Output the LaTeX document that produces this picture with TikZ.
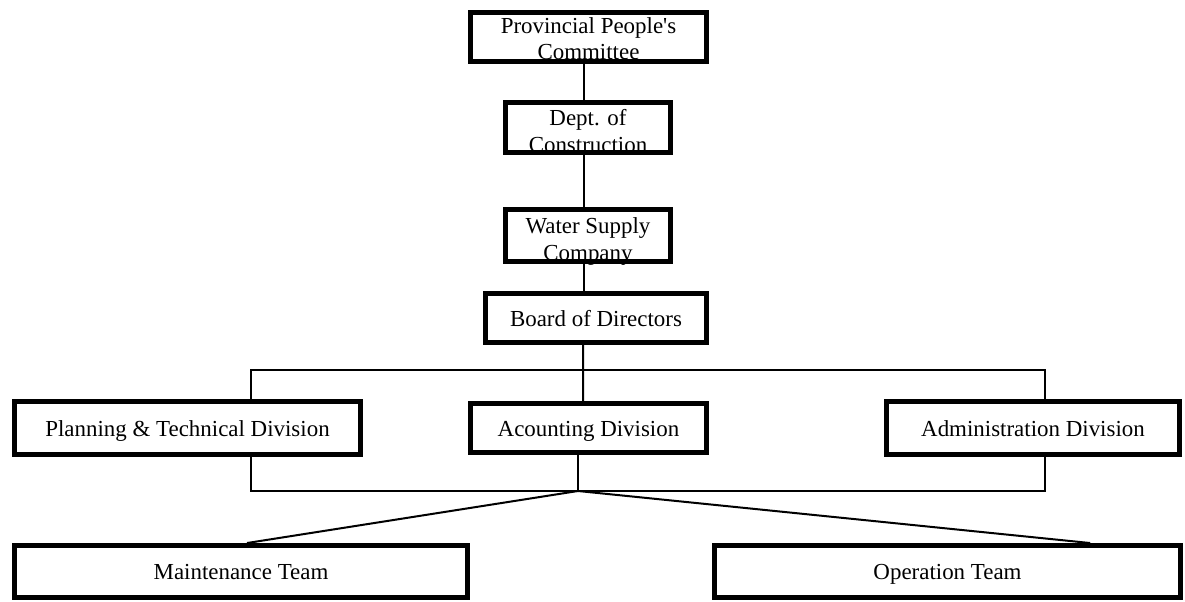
\documentclass[tikz,border=0pt]{standalone}
\usepackage{fontspec}
\setmainfont{Liberation Serif}[Ligatures=TeXOff]
\usetikzlibrary{calc}

\tikzset{every picture/.style={line width=0.75pt}}
\tikzset{
  unitbox/.style={draw, line width=3.7pt, fill=white, inner sep=0pt, align=center,
    font=\fontsize{17.2}{20}\selectfont, text height=12pt, text depth=0pt},
  boxsize/.style 2 args={minimum width=#1*0.75pt, minimum height=#2*0.75pt},
  twoline/.style={text height=#1},
  link/.style={line width=1.5pt},
  bracket/.style={line width=2.2pt},
}

\begin{document}
\begin{tikzpicture}[x=0.75pt,y=0.75pt,yscale=-1,xscale=1]
\useasboundingbox (0,0) rectangle (1185,602);

%Coordinates for the lines
\coordinate (spine) at (584,0);
\coordinate (brtl) at (251,370);
\coordinate (brbr) at (1045,491);
\coordinate (hub) at (578,491);

%Bracket behind the divisions
\draw [bracket] (brtl) rectangle (brbr);

% Top chain
\node [unitbox, boxsize={236}{49}, twoline=34.5pt] (prov) at (588.5,37) {Provincial People's\\Committee};
\node [unitbox, boxsize={165}{50}, twoline=37pt] (dept) at (588,127.5) {Dept. of\\Construction};
\node [unitbox, boxsize={165}{52}, twoline=37.5pt] (water) at (588,235.5) {Water Supply\\Company};
\node [unitbox, boxsize={221}{49}] (board) at (596,318) {Board of Directors};

% Divisions
\node [unitbox, boxsize={346}{53}] (plan) at (187.5,428) {Planning \& Technical Division};
\node [unitbox, boxsize={236}{49}] (acct) at (588.5,428) {Acounting Division};
\node [unitbox, boxsize={293}{53}] (admin) at (1033,428) {Administration Division};

% Teams
\node [unitbox, boxsize={453}{52}] (maint) at (241,571.5) {Maintenance Team};
\node [unitbox, boxsize={466}{52}] (oper) at (947.5,571.5) {Operation Team};

%Straight Lines
\draw [link] (prov.south -| spine) -- (dept.north -| spine);
\draw [link] (dept.south -| spine) -- (water.north -| spine);
\draw [link] (water.south -| spine) -- (board.north -| spine);
\draw [link] ([xshift=-9.75pt]board.south) -- ([xshift=-4.1pt]acct.north);
\draw [link] (acct.south -| hub) -- (hub);
\draw [link] (hub) -- ([xshift=4.5pt]maint.north);
\draw [link] (hub) -- ([xshift=107pt]oper.north);

\end{tikzpicture}
\end{document}
